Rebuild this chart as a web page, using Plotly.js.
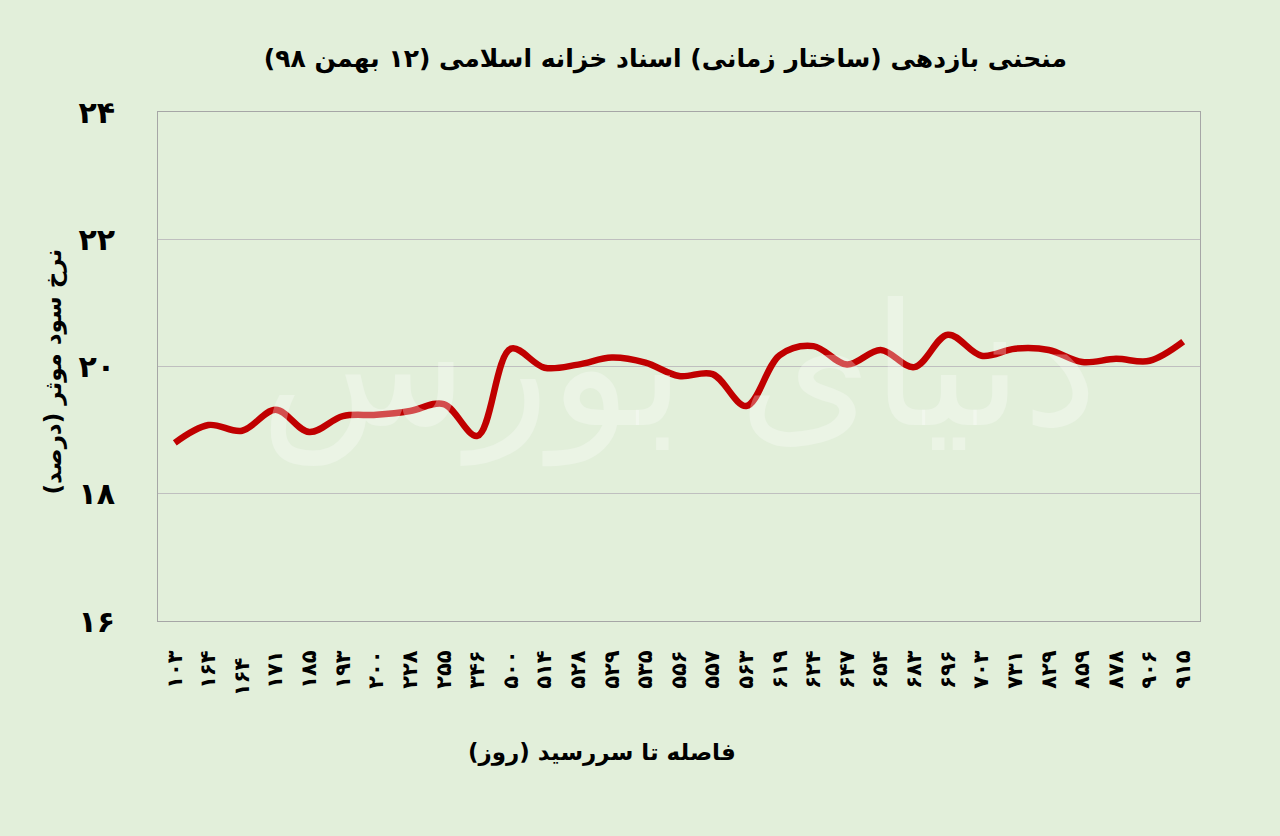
<!DOCTYPE html>
<html>
<head>
<meta charset="utf-8">
<script src="https://cdn.plot.ly/plotly-3.0.1.min.js"></script>
<style>
html,body{margin:0;padding:0;background:#E2EFDA;}
#chart{width:1280px;height:836px;}
</style>
</head>
<body>
<div id="chart"></div>
<script>
// Days to maturity (category labels, Persian digits)
const categories = ['۱۰۳','۱۶۴','۱۶۴ ','۱۷۱','۱۸۵','۱۹۳','۲۰۰','۲۲۸','۲۵۵','۳۴۶','۵۰۰','۵۱۴','۵۲۸','۵۲۹','۵۳۵','۵۵۶','۵۵۷','۵۶۳','۶۱۹','۶۲۴','۶۴۷','۶۵۴','۶۸۳','۶۹۶','۷۰۳','۷۳۱','۸۲۹','۸۵۹','۸۷۸','۹۰۶','۹۱۵'];
// Effective yield (%)
const yieldValues = [18.80,19.08,18.99,19.32,18.97,19.22,19.24,19.30,19.41,18.91,20.28,19.98,20.03,20.14,20.06,19.85,19.88,19.38,20.18,20.32,20.03,20.26,19.99,20.50,20.17,20.28,20.26,20.07,20.12,20.09,20.39];
const yTickVals = [16,18,20,22,24];
const yTickText = ['۱۶','۱۸','۲۰','۲۲','۲۴'];

const fontFam = '"DejaVu Sans", "Noto Sans", sans-serif';

const trace = {
  x: categories,
  y: yieldValues,
  type: 'scatter',
  mode: 'lines',
  line: {color: '#C00000', width: 6.5, shape: 'spline', smoothing: 1},
  hoverinfo: 'x+y'
};

const layout = {
  width: 1280, height: 836,
  paper_bgcolor: '#E2EFDA',
  plot_bgcolor: '#E2EFDA',
  margin: {l: 158, r: 80, t: 112, b: 215},
  showlegend: false,
  title: {
    text: '<b>منحنی بازدهی (ساختار زمانی) اسناد خزانه اسلامی (۱۲ بهمن ۹۸)</b>',
    font: {family: fontFam, size: 25, color: '#000'},
    xref: 'paper', x: 0.487, xanchor: 'center',
    yref: 'container', y: 0.93, yanchor: 'middle'
  },
  xaxis: {
    type: 'category',
    range: [-0.5, 30.5],
    tickangle: -90,
    tickfont: {family: fontFam, size: 21, color: '#000', weight: 'bold'},
    showgrid: false,
    showline: true, linecolor: '#A6A6A6', linewidth: 1, mirror: true,
    ticks: '', ticklabelstandoff: 20,
    zeroline: false,
    fixedrange: true
  },
  yaxis: {
    range: [16, 24],
    tickvals: yTickVals,
    ticktext: yTickText,
    tickfont: {family: fontFam, size: 30, color: '#000', weight: 'bold'},
    showgrid: true, gridcolor: '#BFBFBF', gridwidth: 1,
    showline: true, linecolor: '#A6A6A6', linewidth: 1, mirror: true,
    ticks: '', ticklabelstandoff: 36,
    zeroline: false,
    fixedrange: true
  },
  annotations: [
    {
      text: '<b>نرخ سود موثر (درصد)</b>',
      xref: 'paper', yref: 'paper', x: -0.1, y: 0.49,
      xanchor: 'center', yanchor: 'middle', textangle: -90,
      showarrow: false,
      font: {family: fontFam, size: 23, color: '#000'}
    },
    {
      text: '<b>فاصله تا سررسید (روز)</b>',
      xref: 'paper', yref: 'paper', x: 0.426, y: -0.258,
      xanchor: 'center', yanchor: 'middle',
      showarrow: false,
      font: {family: fontFam, size: 23, color: '#000'}
    },
    {
      text: 'دنیای بورس',
      xref: 'paper', yref: 'paper', x: 0.5, y: 0.5,
      xanchor: 'center', yanchor: 'middle',
      showarrow: false,
      font: {family: fontFam, size: 170, color: 'rgba(255,255,255,0.3)'}
    }
  ]
};

Plotly.newPlot('chart', [trace], layout, {displayModeBar: false, staticPlot: true});
</script>
</body>
</html>
